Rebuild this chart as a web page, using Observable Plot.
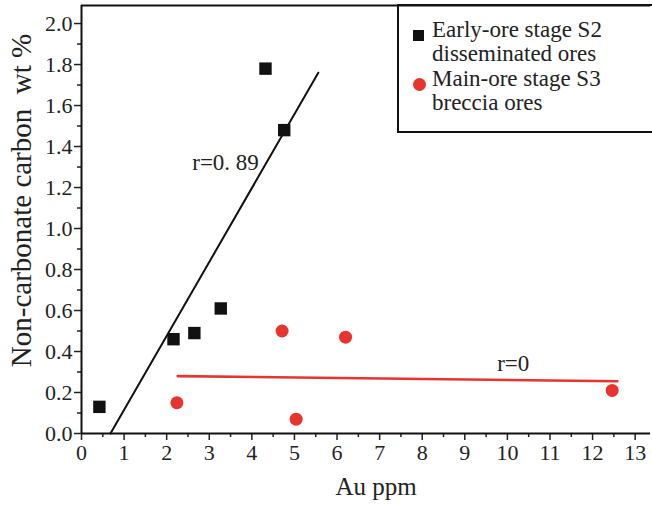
<!DOCTYPE html>
<html>
<head>
<meta charset="utf-8">
<script src="https://cdn.jsdelivr.net/npm/d3@7"></script>
<script src="https://cdn.jsdelivr.net/npm/@observablehq/plot@0.6"></script>
<style>
  body { margin: 0; background: #fff; }
  #wrap { position: relative; width: 652px; height: 509px; font-family: "Liberation Serif", "Times New Roman", serif; }
  #legend { position: absolute; left: 397px; top: 4px; width: 260px; height: 129px;
            border-left: 2px solid #111; border-bottom: 2px solid #111; border-top: 2px solid #111; box-sizing: border-box; }
  .lt { position: absolute; left: 33px; font-size: 23px; line-height: 24px; color: #222; white-space: nowrap; }
  .sq { position: absolute; left: 14px; width: 11px; height: 11px; background: #111; }
  .ci { position: absolute; left: 14px; width: 13px; height: 13px; border-radius: 50%; background: #e8342f; }
</style>
</head>
<body>
<div id="wrap"></div>
<script>
// Early-ore stage S2 disseminated ores (black squares)
const earlyX = [0.42, 2.16, 2.65, 3.27, 4.32, 4.76];
const earlyY = [0.13, 0.46, 0.49, 0.61, 1.78, 1.48];
// Main-ore stage S3 breccia ores (red circles)
const mainX = [2.24, 4.71, 5.04, 6.20, 12.46];
const mainY = [0.15, 0.50, 0.07, 0.47, 0.21];
// regression lines
const earlyFitX = [0.68, 5.56];
const earlyFitY = [0.0, 1.76];
const mainFitX = [2.26, 12.58];
const mainFitY = [0.28, 0.255];
// ticks
const xMajor = [0,1,2,3,4,5,6,7,8,9,10,11,12,13];
const xMinor = [0.5,1.5,2.5,3.5,4.5,5.5,6.5,7.5,8.5,9.5,10.5,11.5,12.5];
const yMajor = [0,0.2,0.4,0.6,0.8,1.0,1.2,1.4,1.6,1.8,2.0];
const yMinor = [0.1,0.3,0.5,0.7,0.9,1.1,1.3,1.5,1.7,1.9];
const labels = ["r=0. 89", "r=0"];
const labelX = [2.6, 9.76];
const labelY = [1.32, 0.34];
const xTitle = "Au ppm";
const yTitle = "Non-carbonate carbon\u00a0\u00a0wt\u00a0%";
const legendLabels = ["Early-ore stage S2", "disseminated ores", "Main-ore stage S3", "breccia ores"];

const early = earlyX.map((x, i) => ({x, y: earlyY[i]}));
const main = mainX.map((x, i) => ({x, y: mainY[i]}));
const earlyFit = earlyFitX.map((x, i) => ({x, y: earlyFitY[i]}));
const mainFit = mainFitX.map((x, i) => ({x, y: mainFitY[i]}));
const ann = labels.map((t, i) => ({t, x: labelX[i], y: labelY[i]}));
const RED = "#e8342f";

const chart = Plot.plot({
  width: 652,
  height: 509,
  marginLeft: 81,
  marginRight: 2,
  marginTop: 5,
  marginBottom: 76,
  style: {fontFamily: "Liberation Serif, Times New Roman, serif", fontSize: "22px", color: "#222", background: "#fff"},
  x: {domain: [0, 13.36]},
  y: {domain: [0, 2.088]},
  marks: [
    Plot.axisX(xMajor, {tickSize: 7, tickPadding: 4, label: null, fontSize: 22, strokeWidth: 1.5}),
    Plot.axisX(xMinor, {tickSize: 4, tickFormat: () => "", label: null, strokeWidth: 1.5}),
    Plot.axisY(yMajor, {tickSize: 7, tickPadding: 2, tickFormat: d => d.toFixed(1), label: null, fontSize: 22, strokeWidth: 1.5}),
    Plot.axisY(yMinor, {tickSize: 4, tickFormat: () => "", label: null, strokeWidth: 1.5}),
    Plot.ruleY([0], {stroke: "#111", strokeWidth: 2}),
    Plot.ruleX([0], {stroke: "#111", strokeWidth: 2}),
    Plot.ruleY([2.088], {stroke: "#111", strokeWidth: 2}),
    Plot.line(earlyFit, {x: "x", y: "y", stroke: "#111", strokeWidth: 2}),
    Plot.line(mainFit, {x: "x", y: "y", stroke: RED, strokeWidth: 2.6}),
    Plot.dot(early, {x: "x", y: "y", symbol: "square", r: 7, fill: "#111", stroke: "none"}),
    Plot.dot(main, {x: "x", y: "y", symbol: "circle", r: 6.5, fill: RED, stroke: "none"}),
    Plot.text(ann, {x: "x", y: "y", text: "t", textAnchor: "start", fontSize: 23, fill: "#222"}),
    Plot.text([xTitle], {frameAnchor: "bottom", dx: 10, dy: 61, fontSize: 25, fill: "#222"}),
    Plot.text([yTitle], {frameAnchor: "left", textAnchor: "middle", lineAnchor: "middle", rotate: -90, dx: -60, dy: -19, fontSize: 29, fill: "#222"})
  ]
});

const wrap = document.getElementById("wrap");
wrap.appendChild(chart);

const legend = document.createElement("div");
legend.id = "legend";
const rows = [
  {cls: "sq", top: 28, mTop: 28},
  {cls: null, top: 52},
  {cls: "ci", top: 77, mTop: 76},
  {cls: null, top: 101}
];
rows.forEach((r, i) => {
  const t = document.createElement("div");
  t.className = "lt";
  t.style.top = (r.top - 12 - 4) + "px";
  t.textContent = legendLabels[i];
  legend.appendChild(t);
  if (r.cls) {
    const m = document.createElement("div");
    m.className = r.cls;
    m.style.top = (r.mTop - 4) + "px";
    legend.appendChild(m);
  }
});
wrap.appendChild(legend);
</script>
</body>
</html>
